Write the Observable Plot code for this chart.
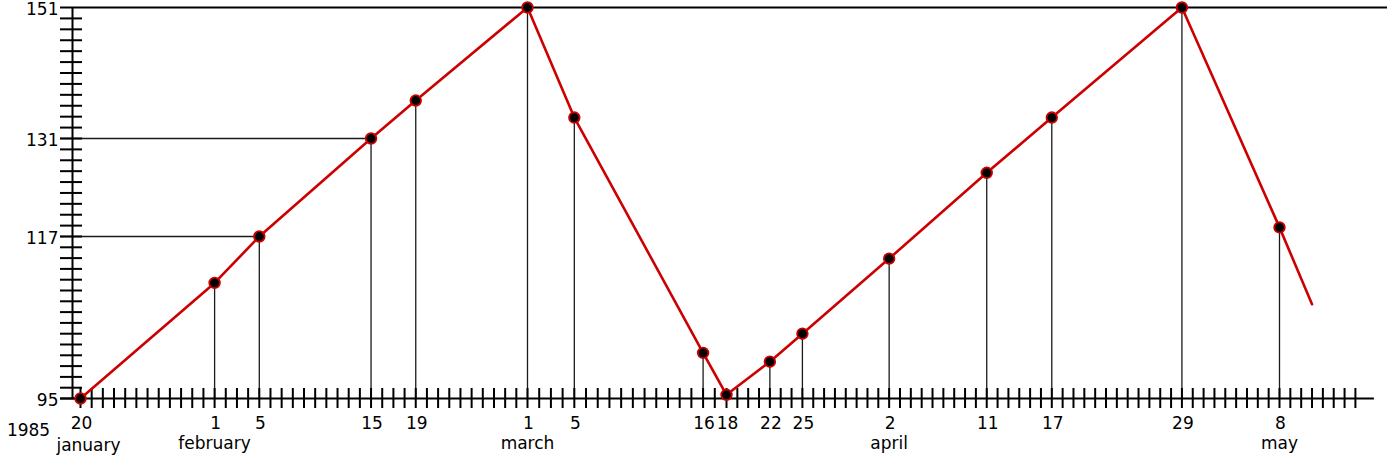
<!DOCTYPE html>
<html>
<head>
<meta charset="utf-8">
<script src="https://cdn.jsdelivr.net/npm/d3@7"></script>
<script src="https://cdn.jsdelivr.net/npm/@observablehq/plot@0.6"></script>
<style>
  html, body { margin: 0; padding: 0; background: #fff; }
  #chart svg { display: block; }
</style>
</head>
<body>
<div id="chart"></div>
<script>
// ---- data ----
const yearLabel = "1985";
const pointDates = ["1985-01-20","1985-02-01","1985-02-05","1985-02-15","1985-02-19","1985-03-01","1985-03-05","1985-03-16","1985-03-18","1985-03-22","1985-03-25","1985-04-02","1985-04-11","1985-04-17","1985-04-29","1985-05-08"];
const pointValues = [95, 110.7, 117, 131, 136.8, 151, 134.2, 101.2, 95.5, 100, 103.8, 114, 126.1, 134.2, 151, 118.3];
const tailDate = "1985-05-11";
const tailValue = 107.8;
const yLabelValues = [95, 117, 131, 151];
const yRulerSteps = [15, 9, 12];            // ruler divisions between labelled values
const guideValues = [117, 131];
const guideDates = ["1985-02-05", "1985-02-15"];
const topValue = 151;
const monthNames = ["january", "february", "march", "april", "may"];
const monthDates = ["1985-01-20", "1985-02-01", "1985-03-01", "1985-04-02", "1985-05-08"];
const rulerStart = "1985-01-20";
const rulerEnd = "1985-05-16";

// ---- build tables ----
const parse = d3.utcParse("%Y-%m-%d");
const points = pointDates.map((d, i) => ({date: parse(d), value: pointValues[i]}));
const linePts = [...points, {date: parse(tailDate), value: tailValue}];
const guides = guideValues.map((v, i) => ({value: v, date: parse(guideDates[i])}));
const months = monthNames.map((m, i) => ({name: m, date: parse(monthDates[i])}));
const origin = parse(rulerStart);
const lastDate = points[points.length - 1].date;
const dayTicks = d3.utcDay.range(origin, parse(rulerEnd));
const yRuler = [];
yRulerSteps.forEach((n, k) => {
  const a = yLabelValues[k], b = yLabelValues[k + 1];
  for (let j = 0; j < n; j++) yRuler.push(a + (b - a) * j / n);
});

const red = "#cc0000";
const font = "DejaVu Sans, Verdana, sans-serif";
const fs = 17;

const chart = Plot.plot({
  width: 1387,
  height: 457,
  margin: 0,
  style: {fontFamily: font, fontSize: fs + "px", background: "#fff", color: "#000"},
  x: {type: "utc", domain: [parse("1985-01-20"), parse("1985-03-01"), parse("1985-03-18"), parse("1985-05-08")], range: [80, 527, 726, 1279], axis: null},
  y: {type: "linear", domain: [95, 117, 131, 151], range: [398, 236, 138, 7], axis: null},
  marks: [
    // drop lines
    Plot.ruleX(points, {x: "date", y1: 95, y2: "value", stroke: "#1a1a1a", strokeWidth: 1.3}),
    // horizontal guide lines
    Plot.ruleY(guides, {y: "value", x1: () => origin, x2: "date", insetLeft: -20, stroke: "#1a1a1a", strokeWidth: 1.3}),
    Plot.ruleY([topValue], {y: d => d, x1: () => origin, x2: () => lastDate, insetLeft: -20, insetRight: -110, stroke: "#000", strokeWidth: 2}),
    // y axis line and ruler ticks
    Plot.ruleX([origin], {x: d => d, y1: 95, y2: 151, dx: -8, stroke: "#000", strokeWidth: 2}),
    Plot.ruleY(yRuler, {y: d => d, x1: () => origin, x2: () => origin, insetLeft: -20, insetRight: -2, stroke: "#000", strokeWidth: 2}),
    // x axis line and day ruler ticks
    Plot.ruleY([95], {y: d => d, x1: () => origin, x2: () => dayTicks[dayTicks.length - 1], insetLeft: -20, insetRight: -19, stroke: "#000", strokeWidth: 2}),
    Plot.ruleX(dayTicks, {x: d => d, y1: 95, y2: 95, insetTop: -10, insetBottom: -10, stroke: "#000", strokeWidth: 2}),
    // the red line and points
    Plot.line(linePts, {x: "date", y: "value", stroke: red, strokeWidth: 2.6}),
    Plot.dot(points, {x: "date", y: "value", r: 5.3, fill: "#000", stroke: red, strokeWidth: 1.8}),
    // labels
    Plot.text(yLabelValues, {x: () => origin, y: d => d, text: d => String(d), textAnchor: "end", dx: -22, dy: 2, fontSize: fs, fill: "#000"}),
    Plot.text(points, {x: "date", y: () => 95, text: d => d3.utcFormat("%-d")(d.date), dy: 25, dx: 1, fontSize: fs, fill: "#000"}),
    Plot.text(months.slice(0, 1), {x: "date", y: () => 95, text: "name", dx: 8, dy: 47, fontSize: fs, fill: "#000"}),
    Plot.text(months.slice(1), {x: "date", y: () => 95, text: "name", dy: 45, fontSize: fs, fill: "#000"}),
    Plot.text([yearLabel], {x: () => origin, y: () => 95, text: d => d, dx: -52, dy: 32, fontSize: fs, fill: "#000"})
  ]
});
document.getElementById("chart").appendChild(chart);
</script>
</body>
</html>
